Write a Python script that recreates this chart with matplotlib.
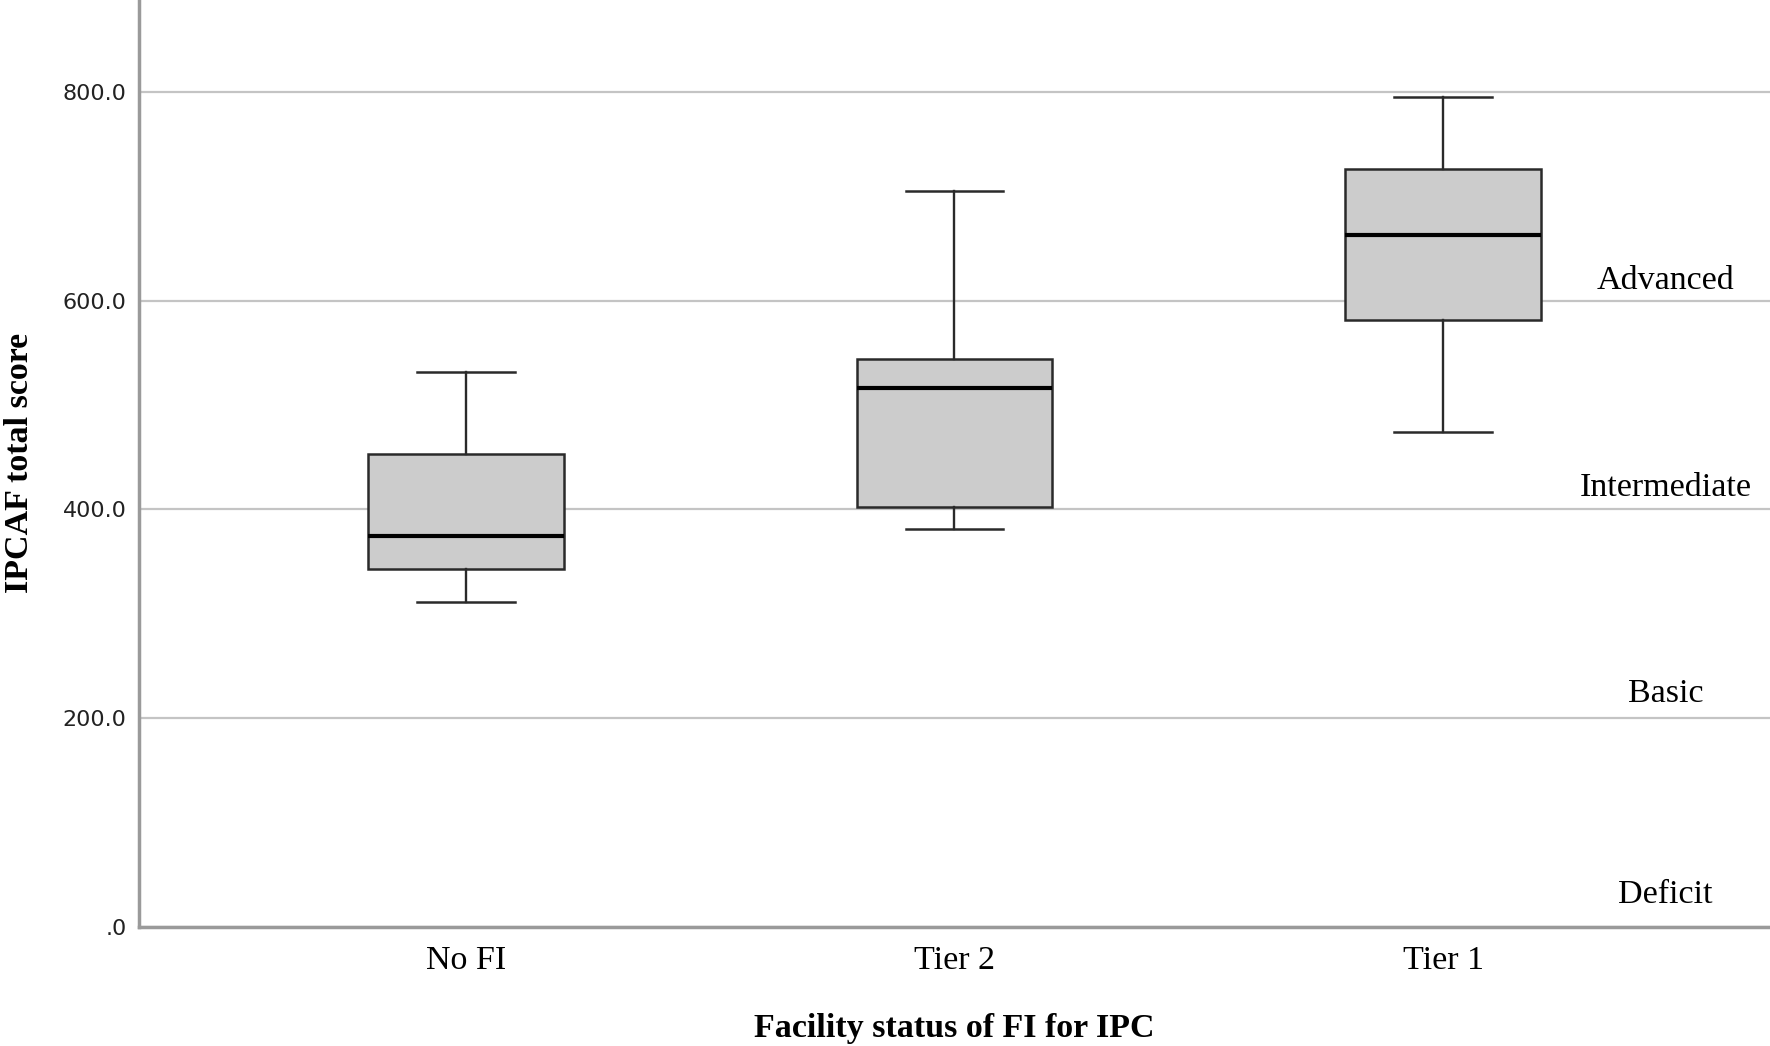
import matplotlib
matplotlib.use('Agg')
from matplotlib import pyplot as plt
from matplotlib.ticker import FuncFormatter

# box plot summaries
groups = ['No FI', 'Tier 2', 'Tier 1']
whislo = [311, 381, 474]
q1 = [343, 402, 581]
med = [374, 516, 663]
q3 = [453, 544, 726]
whishi = [532, 705, 795]

# IPCAF level labels on the right side
levels = ['Advanced', 'Intermediate', 'Basic', 'Deficit']
level_y = [611, 413, 215, 23]

yticks = [0, 200, 400, 600, 800]


def fmt(v, pos):
    return ('%.1f' % v).lstrip('0')


def plot():
    serif = ['Liberation Serif', 'DejaVu Serif']
    fig = plt.figure(figsize=(17.7, 10.46), dpi=100)
    ax = fig.add_axes([0.0785, 0.114, 0.9215, 0.886])

    stats = []
    for i in range(len(groups)):
        stats.append(dict(label=groups[i], whislo=whislo[i], q1=q1[i], med=med[i],
                          q3=q3[i], whishi=whishi[i], fliers=[]))
    pos = list(range(1, len(groups) + 1))
    edge = '#2a2a2a'
    ax.bxp(stats, positions=pos, widths=0.4, capwidths=0.2, patch_artist=True,
           showfliers=False,
           boxprops=dict(facecolor='#cccccc', edgecolor=edge, linewidth=1.8),
           medianprops=dict(color='black', linewidth=3),
           whiskerprops=dict(color=edge, linewidth=1.7),
           capprops=dict(color=edge, linewidth=1.8))

    ax.set_xlim(0.331, 3.669)
    ax.set_ylim(0, 888)
    ax.set_yticks(yticks)
    ax.yaxis.set_major_formatter(FuncFormatter(fmt))
    ax.set_axisbelow(True)
    ax.yaxis.grid(True, color='#c4c4c4', linewidth=1.6)

    for s in ['top', 'right']:
        ax.spines[s].set_visible(False)
    for s in ['left', 'bottom']:
        ax.spines[s].set_color('#9a9a9a')
        ax.spines[s].set_linewidth(2.5)

    ax.tick_params(axis='y', length=0, pad=9, labelsize=16, labelcolor='#222222')
    ax.tick_params(axis='x', length=0, pad=13.5)
    ax.set_xticks(pos)
    ax.set_xticklabels(groups, family=serif, fontsize=24.5)

    for name, y in zip(levels, level_y):
        ax.text(3.455, y, name, ha='center', va='baseline', family=serif, fontsize=24.5)

    ax.set_xlabel('Facility status of FI for IPC', family=serif, fontsize=24.5,
                  fontweight='bold', labelpad=26.5)
    ax.set_ylabel('IPCAF total score', family=serif, fontsize=24.5,
                  fontweight='bold', labelpad=19.5)

    fig.savefig('out.png', dpi=100)


if __name__ == '__main__':
    plot()
